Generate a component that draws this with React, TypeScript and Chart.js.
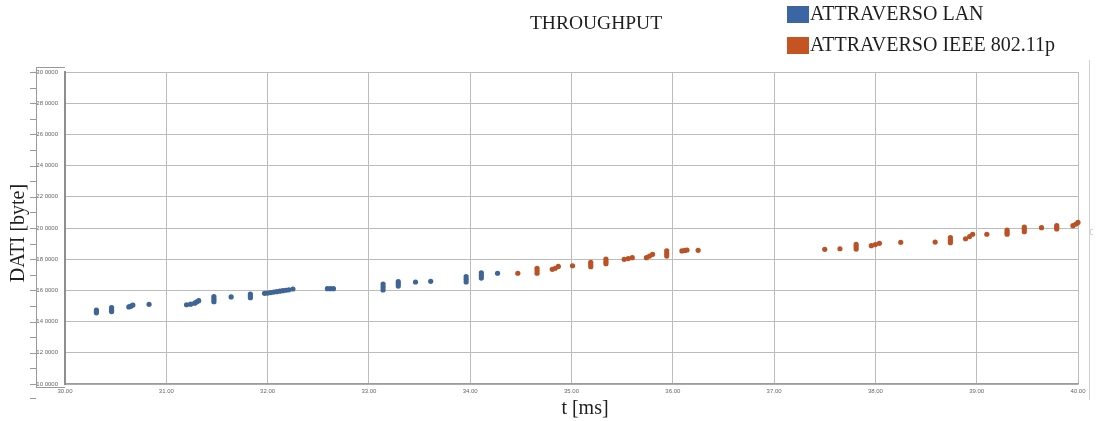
import { useEffect, useRef } from "react";
import { Chart, registerables } from "chart.js";

Chart.register(...registerables);

// ---- data ----
const chartTitle = "THROUGHPUT";
const seriesNames = ["ATTRAVERSO LAN", "ATTRAVERSO IEEE 802.11p"];
const xAxisTitle = "t [ms]";
const yAxisTitle = "DATI [byte]";

const lanT = [
  30.31, 30.31, 30.31, 30.46, 30.46, 30.46, 30.63, 30.65, 30.67, 30.83,
  31.2, 31.24, 31.28, 31.3, 31.32, 31.47, 31.47, 31.47, 31.64, 31.83, 31.83, 31.83,
  31.97, 32.0, 32.03, 32.06, 32.09, 32.12, 32.15, 32.18, 32.21, 32.25,
  32.59, 32.62, 32.65, 33.14, 33.14, 33.14, 33.29, 33.29, 33.29, 33.46, 33.61,
  33.96, 33.96, 33.96, 34.11, 34.11, 34.11, 34.27,
];
const lanBytes = [
  147400, 146500, 145600, 148900, 147600, 146400, 149400, 149900, 150600, 151100,
  150800, 151200, 151800, 152600, 153400, 156000, 154400, 152800, 155800, 157700, 156500, 155300,
  158100, 158300, 158600, 158900, 159200, 159500, 159800, 160100, 160400, 160900,
  161100, 161100, 161100, 164100, 162200, 160300, 165600, 164200, 162800, 165400, 165800,
  168800, 167100, 165400, 171300, 169600, 167900, 171000,
];

const wifiT = [
  34.47, 34.66, 34.66, 34.66, 34.81, 34.84, 34.87, 35.01, 35.19, 35.19, 35.19,
  35.34, 35.34, 35.34, 35.52, 35.56, 35.6, 35.74, 35.77, 35.8, 35.94, 35.94, 35.94,
  36.09, 36.12, 36.14, 36.25, 37.5, 37.65, 37.81, 37.81, 37.81, 37.96, 38.0, 38.04,
  38.25, 38.59, 38.74, 38.74, 38.74, 38.89, 38.93, 38.96, 39.1, 39.3, 39.3, 39.3,
  39.47, 39.47, 39.47, 39.64, 39.79, 39.79, 39.79, 39.95, 39.98, 40.0,
];
const wifiBytes = [
  171000, 174200, 172600, 171000, 173500, 174200, 175400, 175800, 178000, 176600, 175200,
  180100, 178600, 177100, 179900, 180400, 181000, 181000, 182000, 183100, 185400, 183700, 182000,
  185300, 185600, 185900, 185700, 186300, 186700, 189500, 188000, 186500, 188700, 189400, 190200,
  190800, 191000, 193800, 192200, 190600, 193100, 194500, 196000, 196000, 198700, 197300, 196000,
  200600, 199100, 197600, 200200, 201500, 200400, 199400, 201500, 202500, 203600,
];

const xTickLabels = ["30.00", "31.00", "32.00", "33.00", "34.00", "35.00", "36.00", "37.00", "38.00", "39.00", "40.00"];
const yTickLabels = ["10 0000", "12 0000", "14 0000", "16 0000", "18 0000", "20 0000", "22 0000", "24 0000", "26 0000", "28 0000", "30 0000"];

const BLUE = "#3f6496";
const ORANGE = "#bb5226";
const LEG_BLUE = "#3c66a3";
const LEG_ORANGE = "#c55422";

const decorPlugin = {
  id: "decor",
  afterDraw(chart: any) {
    const ctx = chart.ctx as CanvasRenderingContext2D;
    const y = chart.scales.y;
    const area = chart.chartArea;
    ctx.save();
    // y axis side box & minor ticks
    ctx.strokeStyle = "#9a9a9a";
    ctx.lineWidth = 1;
    ctx.beginPath();
    ctx.moveTo(36.5, area.top - 5);
    ctx.lineTo(36.5, area.bottom + 3);
    ctx.moveTo(36, area.top - 5 + 0.5);
    ctx.lineTo(area.left, area.top - 5 + 0.5);
    ctx.moveTo(36, area.bottom + 3.5);
    ctx.lineTo(area.left, area.bottom + 3.5);
    for (let v = 100000; v <= 300000; v += 10000) {
      const py = Math.round(y.getPixelForValue(v)) + 0.5;
      ctx.moveTo(30, py);
      ctx.lineTo(36, py);
    }
    ctx.moveTo(30, area.bottom + 14.5);
    ctx.lineTo(36, area.bottom + 14.5);
    ctx.stroke();
    // right faint edge
    ctx.strokeStyle = "#cfcfcf";
    ctx.beginPath();
    ctx.moveTo(1089.5, 60);
    ctx.lineTo(1089.5, 400);
    ctx.stroke();
    ctx.beginPath();
    ctx.arc(1093, 232, 3, Math.PI * 0.5, Math.PI * 1.5);
    ctx.stroke();

    ctx.fillStyle = "#1e1e1e";
    ctx.textBaseline = "middle";
    // title
    ctx.font = "19.5px 'Liberation Serif'";
    ctx.textAlign = "center";
    ctx.fillText(chartTitle, 596, 24);
    // legend
    ctx.font = "20px 'Liberation Serif'";
    ctx.textAlign = "left";
    ctx.fillStyle = LEG_BLUE;
    ctx.fillRect(787, 6, 22, 17);
    ctx.fillStyle = LEG_ORANGE;
    ctx.fillRect(787, 37, 22, 17);
    ctx.fillStyle = "#1e1e1e";
    ctx.fillText(seriesNames[0], 810, 15);
    ctx.fillText(seriesNames[1], 810, 46);
    // axis titles
    ctx.font = "20px 'Liberation Serif'";
    ctx.textAlign = "center";
    ctx.fillText(xAxisTitle, 585, 409);
    ctx.translate(19, 233);
    ctx.rotate(-Math.PI / 2);
    ctx.fillText(yAxisTitle, 0, 0);
    ctx.restore();
  },
};

export default function App() {
  const ref = useRef<HTMLCanvasElement | null>(null);
  useEffect(() => {
    if (!ref.current) return;
    const chart = new Chart(ref.current, {
      type: "scatter",
      data: {
        datasets: [
          {
            label: seriesNames[0],
            data: lanT.map((t, i) => ({ x: t, y: lanBytes[i] })),
            backgroundColor: BLUE,
            borderWidth: 0,
            pointRadius: 2.6,
            clip: false,
          },
          {
            label: seriesNames[1],
            data: wifiT.map((t, i) => ({ x: t, y: wifiBytes[i] })),
            backgroundColor: ORANGE,
            borderWidth: 0,
            pointRadius: 2.6,
            clip: false,
          },
        ],
      },
      options: {
        responsive: false,
        animation: false,
        layout: { padding: { left: 0, right: 19, top: 72, bottom: 0 } },
        plugins: {
          legend: { display: false },
          title: { display: false },
          tooltip: { enabled: false },
        },
        scales: {
          x: {
            type: "linear",
            min: 30,
            max: 40,
            afterFit: (s: any) => {
              s.height = 37;
            },
            ticks: {
              stepSize: 1,
              padding: 4,
              color: "#666",
              font: { family: "Liberation Sans", size: 6 },
              maxRotation: 0,
              callback: (_v: any, i: number) => xTickLabels[i],
            },
            grid: { color: "#bcbcbc", lineWidth: 1, drawTicks: false },
            border: { color: "#9c9c9c", width: 1.5 },
          },
          y: {
            type: "linear",
            min: 100000,
            max: 300000,
            afterFit: (s: any) => {
              s.width = 65;
            },
            ticks: {
              stepSize: 20000,
              padding: 7,
              color: "#666",
              font: { family: "Liberation Sans", size: 6 },
              callback: (_v: any, i: number) => yTickLabels[i],
            },
            grid: { color: "#bcbcbc", lineWidth: 1, drawTicks: false },
            border: { color: "#8e8e8e", width: 2 },
          },
        },
      },
      plugins: [decorPlugin],
    });
    return () => chart.destroy();
  }, []);
  return (
    <div style={{ position: "fixed", left: 0, top: 0, width: 1097, height: 421, background: "#fff" }}>
      <canvas ref={ref} width={1097} height={421} style={{ display: "block" }} />
    </div>
  );
}
